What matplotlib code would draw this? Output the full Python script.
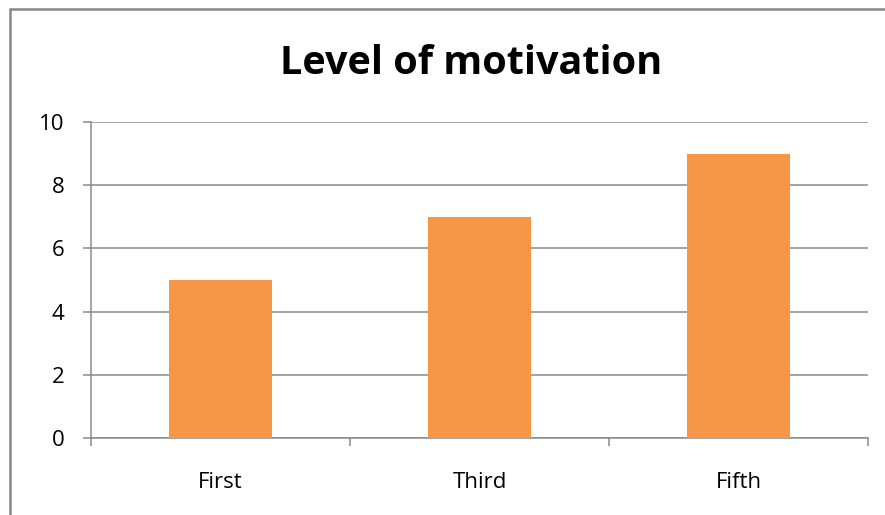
import matplotlib
matplotlib.use("Agg")
import matplotlib.pyplot as plt
from matplotlib.patches import Rectangle

categories = ["First", "Third", "Fifth"]
values = [5, 7, 9]
yticks = [0, 2, 4, 6, 8, 10]
title = "Level of motivation"

plt.rcParams['font.family'] = ['Open Sans', 'DejaVu Sans']

fig = plt.figure(figsize=(8.85, 5.15), dpi=100)
fig.patch.set_facecolor('white')
# outer chart border (extends beyond right/bottom like the reference crop)
fig.patches.append(Rectangle((10/885, -0.05), 1.2, 1 - 9/515 + 0.05, transform=fig.transFigure,
                             fill=False, edgecolor='#878787', linewidth=1.8, zorder=0))

ax = fig.add_axes([91/885, 1 - 438/515, (868 - 91)/885, (438 - 122)/515])
x = list(range(len(categories)))
ax.bar(x, values, width=0.4, color='#F79646', zorder=3)
ax.set_xlim(-0.5, len(categories) - 0.5)
ax.set_ylim(0, 10)
ax.set_yticks(yticks)
ax.set_yticklabels([str(t) for t in yticks], fontsize=16)
ax.yaxis.grid(True, color='#8a8a8a', linewidth=1.1, zorder=0)
ax.set_axisbelow(True)

for s in ['top', 'right']:
    ax.spines[s].set_visible(False)
for s in ['left', 'bottom']:
    ax.spines[s].set_color('#8a8a8a')
    ax.spines[s].set_linewidth(1.1)

ax.tick_params(axis='y', length=6, width=1.1, color='#8a8a8a', pad=13, labelcolor='black')
ax.set_xticks([-0.5, 0.5, 1.5, 2.5])
ax.set_xticklabels([])
ax.tick_params(axis='x', length=6, width=1.1, color='#8a8a8a')
for i, c in enumerate(categories):
    ax.text(i, -1.4, c, ha='center', va='center', fontsize=16, transform=ax.transData)

fig.text(471/885, 1 - 64/515, title, ha='center', va='center', fontsize=28.5, fontweight='bold')

fig.savefig('out.png', dpi=100)
